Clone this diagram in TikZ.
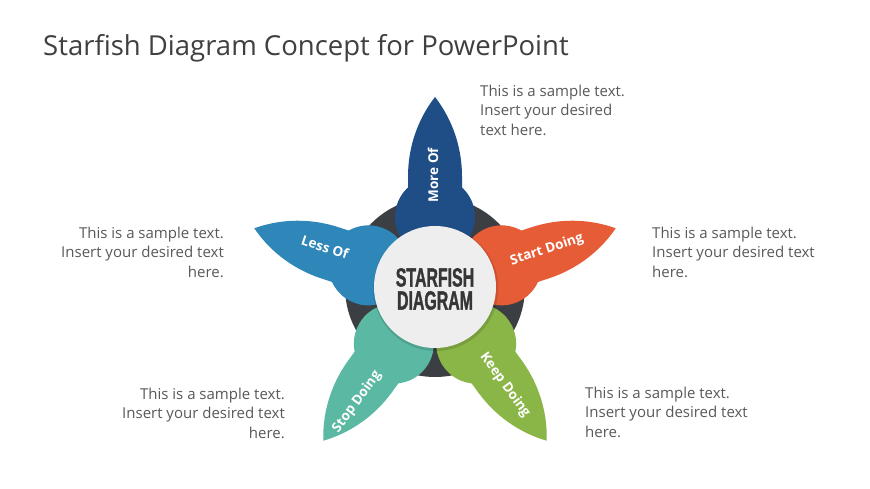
\documentclass[tikz,border=0pt]{standalone}
\usepackage{fontspec}
\setmainfont{Open Sans}
\newfontfamily\condfont[FakeStretch=0.6, FakeBold=1.2]{Liberation Sans Bold}
\definecolor{darkc}{HTML}{3B3E42}
\definecolor{moreof}{HTML}{1F4E87}
\definecolor{lessof}{HTML}{2E86B9}
\definecolor{startd}{HTML}{E65C36}
\definecolor{keepd}{HTML}{8AB547}
\definecolor{stopd}{HTML}{5BB8A2}
\definecolor{centerc}{HTML}{EEEEEF}
\definecolor{centertxt}{HTML}{363636}
\definecolor{bodytxt}{HTML}{595959}
\definecolor{titletxt}{HTML}{404040}
\tikzset{
  lbl/.style={text=white, inner sep=0pt, font=\bfseries\fontsize{13.5}{15}\selectfont},
  body/.style={text=bodytxt, inner sep=0pt, font=\fontsize{15}{19.5}\selectfont},
}
\begin{document}
\begin{tikzpicture}[x=1pt,y=1pt]
\useasboundingbox (0,0) rectangle (870,489);
\fill[white] (0,0) rectangle (870,489);
\coordinate (C) at (435,202);
% title
\node[anchor=base west, inner sep=0pt, text=titletxt, font=\fontsize{27.5}{33}\selectfont] (title) at (43,433) {Starfish Diagram Concept for PowerPoint};
% dark disc
\fill[darkc] (C) circle (90);
% petals
\foreach \ang/\col in {90/moreof,162/lessof,18/startd,234/stopd,306/keepd}{
  \begin{scope}[shift={(C)}, rotate=\ang-90]
    \fill[\col] (0,70) circle (40);
    \fill[\col] (-27,88) -- (-27,110) .. controls (-27,145) and (-14,172) .. (0,190)
      .. controls (14,172) and (27,145) .. (27,110) -- (27,88) -- cycle;
  \end{scope}
}
% centre disc
\fill[black, opacity=0.12] ([shift={(0.8,-1.5)}]C) circle (62.5);
\fill[centerc] (C) circle (61);
\node[align=center, inner sep=0pt, text=centertxt, font=\condfont\fontsize{26.5}{23}\selectfont] (ctext) at (435,200) {STARFISH\\DIAGRAM};
% petal labels
\node[lbl, rotate=90] (tmore) at (433,314) {More Of};
\node[lbl, rotate=-18] (tless) at (325,242) {Less Of};
\node[lbl, rotate=18] (tstart) at (547,239) {Start Doing};
\node[lbl, rotate=-54] (tkeep) at (505,104) {Keep Doing};
\node[lbl, rotate=54] (tstop) at (357,87) {Stop Doing};
% text blocks
\node[body, anchor=north west, align=left] (btop) at (480,404.5) {This is a sample text.\\Insert your desired\\text here.};
\node[body, anchor=north east, align=right] (bleft) at (224,262.5) {This is a sample text.\\Insert your desired text\\here.};
\node[body, anchor=north west, align=left] (bright) at (652,262.5) {This is a sample text.\\Insert your desired text\\here.};
\node[body, anchor=north east, align=right] (bbl) at (285,101.5) {This is a sample text.\\Insert your desired text\\here.};
\node[body, anchor=north west, align=left] (bbr) at (585,102.5) {This is a sample text.\\Insert your desired text\\here.};
\end{tikzpicture}
\end{document}
